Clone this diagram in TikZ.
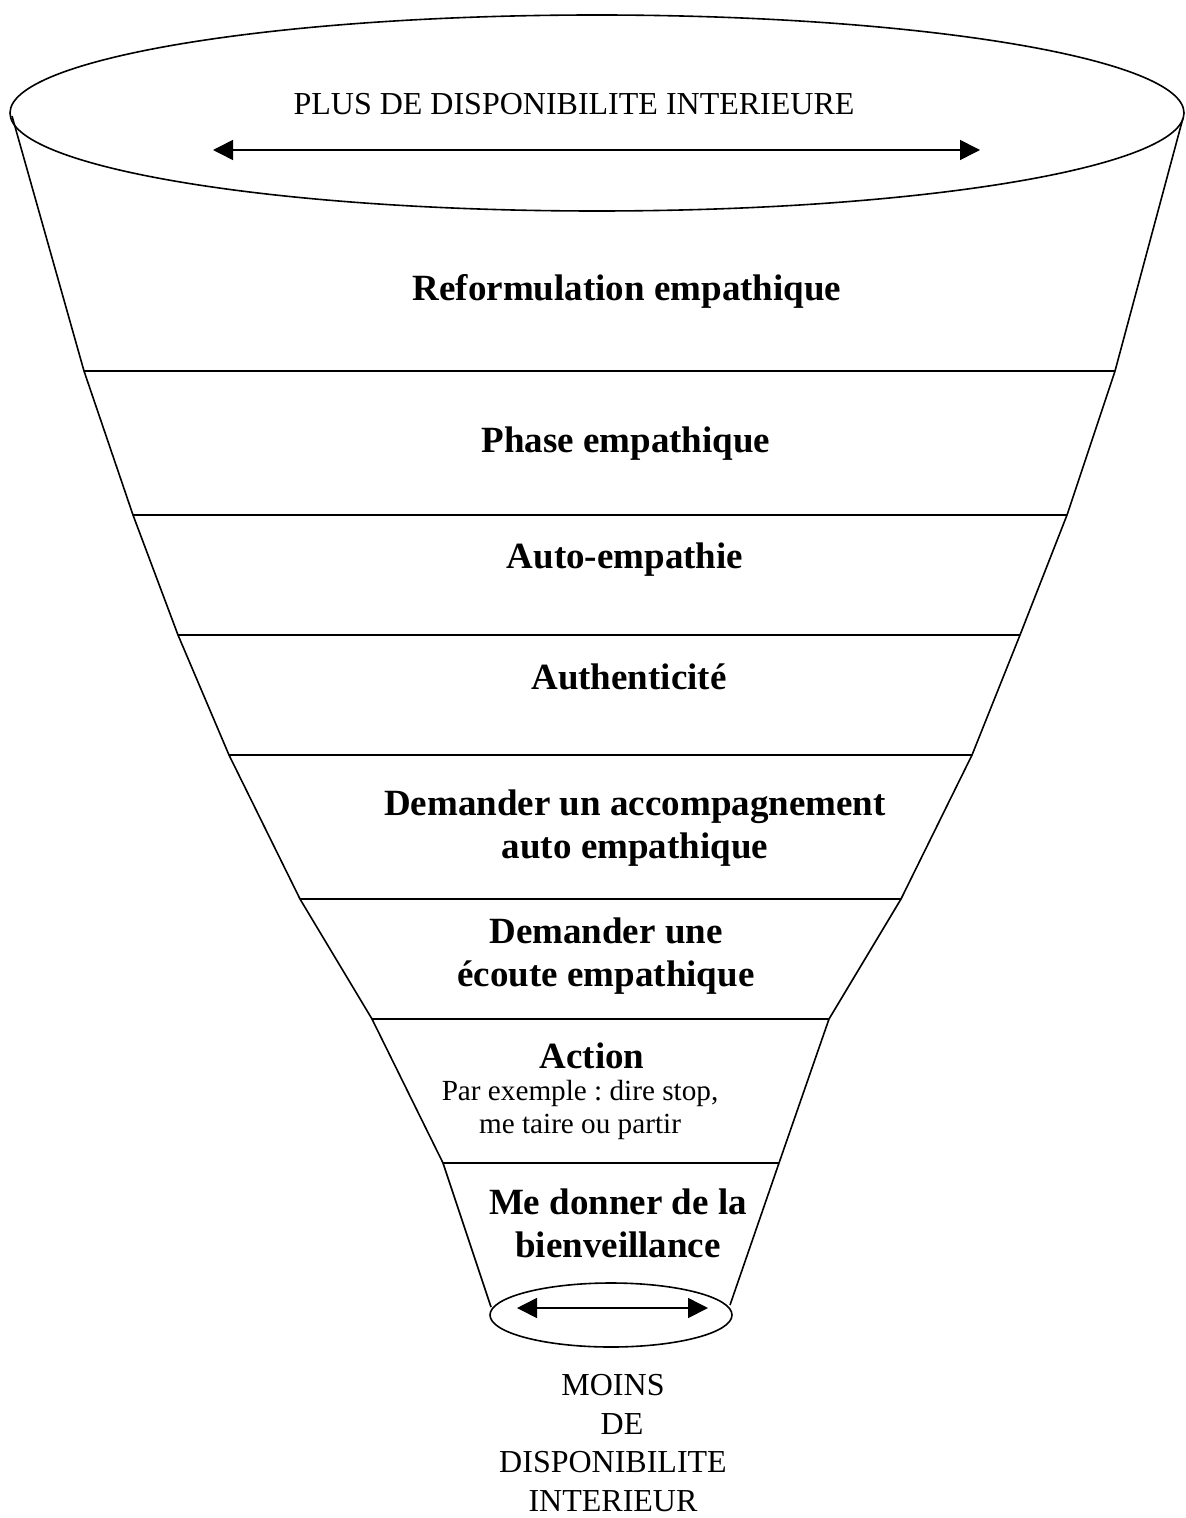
\documentclass[tikz,border=0pt]{standalone}
\usepackage{fontspec}
\setmainfont{Liberation Serif}
\frenchspacing
\usetikzlibrary{shapes.geometric, arrows.meta}

\tikzset{
  level/.style = {font = \fontsize{18.5}{21.5}\selectfont\bfseries, align = center, inner sep = 0pt},
  caption/.style = {font = \fontsize{16}{19.3}\selectfont, align = center, inner sep = 0pt},
  example/.style = {font = \fontsize{14.6}{16.5}\selectfont, align = center, inner sep = 0pt},
  spread/.style = {{Triangle[length = 10pt, width = 10pt]}-{Triangle[length = 10pt, width = 10pt]}},
}

\begin{document}
\begin{tikzpicture}[x = 0.5pt, y = -0.5pt, line width = 0.8pt]
  \useasboundingbox (0, 0) rectangle (1185, 1518);

  % rim and spout of the funnel
  \node [shape = ellipse, draw = black, minimum width = 587pt, minimum height = 98pt, inner sep = 0pt] (rim) at (597, 113) {};
  \node [shape = ellipse, draw = black, minimum width = 121pt, minimum height = 32pt, inner sep = 0pt] (spout) at (611, 1315) {};

  % sides
  \coordinate (l0) at (12, 116);
  \coordinate (l1) at (84, 371);
  \coordinate (l2) at (133, 515);
  \coordinate (l3) at (178, 635);
  \coordinate (l4) at (229, 755);
  \coordinate (l5) at (300, 899);
  \coordinate (l6) at (372, 1019);
  \coordinate (l7) at (443, 1163);
  \coordinate (l8) at (491, 1307);
  \coordinate (r0) at (1183, 118);
  \coordinate (r1) at (1115, 371);
  \coordinate (r2) at (1067, 515);
  \coordinate (r3) at (1020, 635);
  \coordinate (r4) at (972, 755);
  \coordinate (r5) at (901, 899);
  \coordinate (r6) at (829, 1019);
  \coordinate (r7) at (779, 1163);
  \coordinate (r8) at (730, 1305);

  \draw (l0) -- (l1) -- (l2) -- (l3) -- (l4) -- (l5) -- (l6) -- (l7) -- (l8);
  \draw (r0) -- (r1) -- (r2) -- (r3) -- (r4) -- (r5) -- (r6) -- (r7) -- (r8);
  \draw (l1) -- (r1);
  \draw (l2) -- (r2);
  \draw (l3) -- (r3);
  \draw (l4) -- (r4);
  \draw (l5) -- (r5);
  \draw (l6) -- (r6);
  \draw (l7) -- (r7);

  % width arrows
  \coordinate (rim left) at (213, 150);
  \coordinate (rim right) at (980, 150);
  \coordinate (spout left) at (517, 1308);
  \coordinate (spout right) at (708, 1308);
  \draw [spread] (rim left) -- (rim right);
  \draw [spread] (spout left) -- (spout right);

  % texts
  \node [caption] (plus) at (574, 104) {PLUS DE DISPONIBILITE INTERIEURE};
  \node [level] (reform) at (627, 291) {Reformulation empathique};
  \node [level] (phase) at (626, 444) {Phase empathique};
  \node [level] (autoemp) at (625, 560) {Auto-empathie};
  \node [level] (authent) at (629, 677) {Authenticité};
  \node [level] (accomp) at (635, 828) {Demander un accompagnement\\auto empathique};
  \node [level] (ecoute) at (606, 956) {Demander une\\écoute empathique};
  \node [level] (action) at (592, 1056) {Action};
  \node [example] (exemple) at (580, 1110) {Par exemple : dire stop,\\me taire ou partir};
  \node [level] (bienv) at (618, 1223) {Me donner de la\\bienveillance};
  \node [caption] (moins) at (613, 1443) {MOINS\\\hspace*{9pt}DE\\DISPONIBILITE\\INTERIEUR};
\end{tikzpicture}
\end{document}
